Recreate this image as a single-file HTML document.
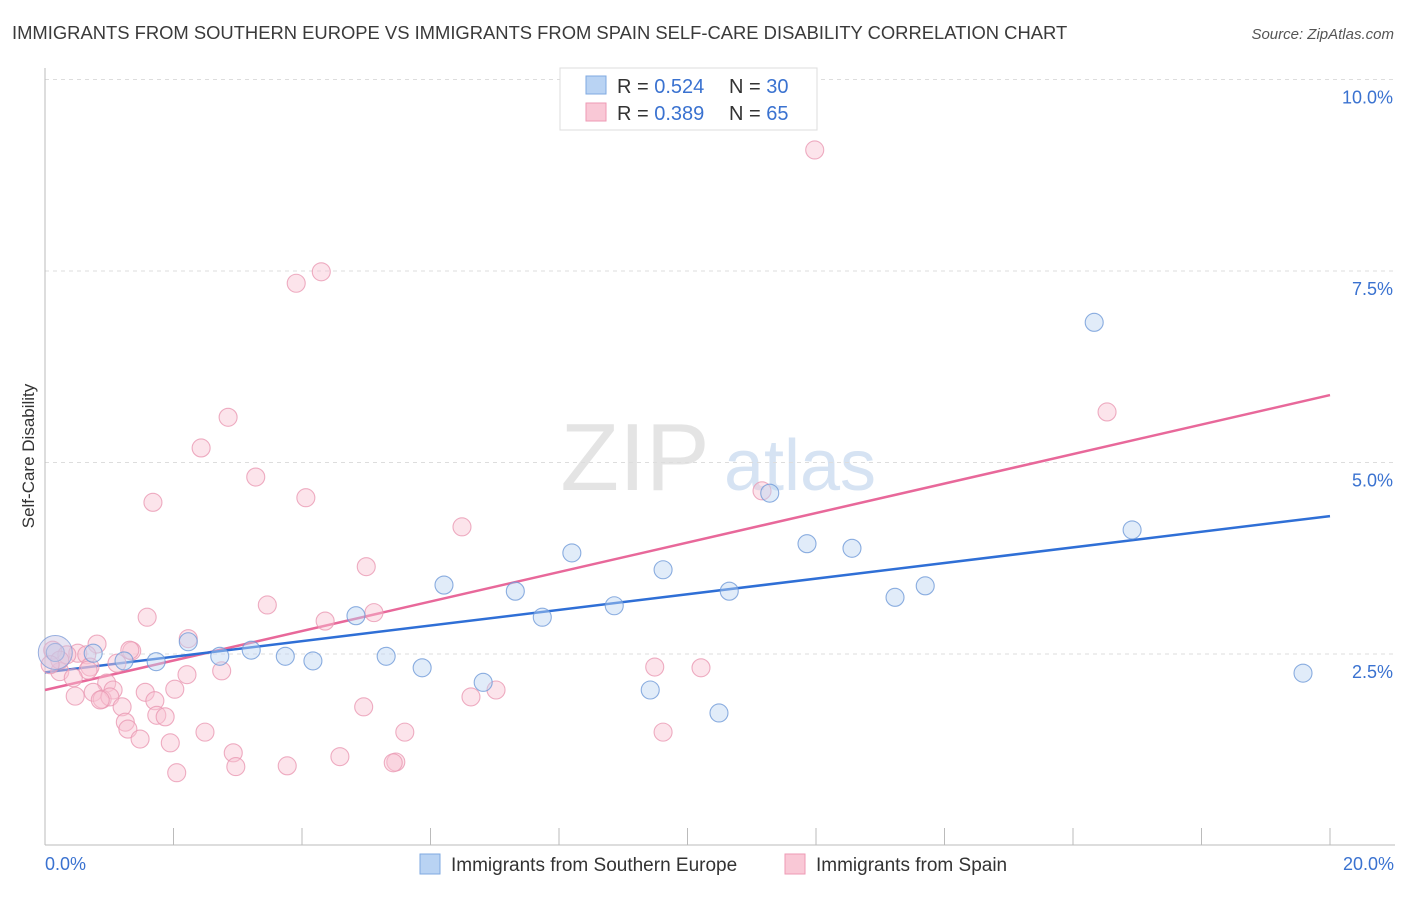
<!DOCTYPE html>
<html><head><meta charset="utf-8"><style>
body{margin:0;background:#fff;font-family:"Liberation Sans",sans-serif;}
svg text{font-family:"Liberation Sans",sans-serif;}
</style></head><body>
<svg id="chart" width="1406" height="892" xmlns="http://www.w3.org/2000/svg">
<text x="12" y="39" font-size="18.4" fill="#3a3a3a">IMMIGRANTS FROM SOUTHERN EUROPE VS IMMIGRANTS FROM SPAIN SELF-CARE DISABILITY CORRELATION CHART</text>
<text x="1394" y="39" font-size="15" fill="#555" font-style="italic" text-anchor="end">Source: ZipAtlas.com</text>
<text transform="translate(34,456) rotate(-90)" font-size="17" fill="#333" text-anchor="middle">Self-Care Disability</text>
<g>
<text x="635" y="490" font-size="96" fill="#e4e4e4" font-family="Liberation Serif" text-anchor="middle">ZIP</text>
<text x="800" y="490" font-size="72" fill="#d6e3f3" text-anchor="middle">atlas</text>
</g>
<g id="grid"></g>
<g id="axes"></g>
<g id="lines"></g>
<g id="points"></g>
<g>
<rect x="560" y="68" width="257" height="62" fill="#fff" stroke="#ddd"/>
<rect x="586" y="76" width="20" height="18" fill="#b9d3f3" stroke="#7fa9e0"/>
<rect x="586" y="103" width="20" height="18" fill="#f9c8d6" stroke="#ee9ab4"/>
<text x="617" y="93" font-size="20" fill="#333">R = <tspan fill="#3a72d0">0.524</tspan></text>
<text x="729" y="93" font-size="20" fill="#333">N = <tspan fill="#3a72d0">30</tspan></text>
<text x="617" y="120" font-size="20" fill="#333">R = <tspan fill="#3a72d0">0.389</tspan></text>
<text x="729" y="120" font-size="20" fill="#333">N = <tspan fill="#3a72d0">65</tspan></text>
</g>
<g>
<rect x="420" y="854" width="20" height="20" fill="#b9d3f3" stroke="#7fa9e0"/>
<text x="451" y="871" font-size="19" fill="#333">Immigrants from Southern Europe</text>
<rect x="785" y="854" width="20" height="20" fill="#f9c8d6" stroke="#ee9ab4"/>
<text x="816" y="871" font-size="19" fill="#333">Immigrants from Spain</text>
</g>
</svg>
<script>
const yTicks=[2.5,5.0,7.5,10.0];
const yTickLabels=["2.5%","5.0%","7.5%","10.0%"];
const xTickLabels=["0.0%","20.0%"];
const blueX=[0.16,0.75,1.23,1.73,2.23,2.72,3.21,3.74,4.17,4.84,5.31,5.87,6.21,6.82,7.32,7.74,8.20,8.86,9.42,9.62,10.49,10.65,11.28,11.86,12.56,13.23,13.70,16.33,16.92,19.58];
const blueY=[2.52,2.51,2.41,2.40,2.66,2.47,2.55,2.47,2.41,3.00,2.47,2.32,3.40,2.13,3.32,2.98,3.82,3.13,2.03,3.60,1.73,3.32,4.60,3.94,3.88,3.24,3.39,6.83,4.12,2.25];
const pinkX=[1.59,3.46,4.36,0.81,2.23,1.35,0.51,0.12,0.34,0.65,1.12,0.70,0.23,0.67,2.21,2.75,0.44,0.96,0.47,0.75,1.06,1.56,2.02,0.89,1.01,1.20,1.71,1.25,1.29,1.74,1.87,1.48,1.95,2.49,2.93,2.97,3.77,2.05,4.59,11.98,4.30,3.91,2.85,2.43,3.28,1.68,4.06,6.49,5.00,11.16,16.53,5.12,7.02,6.63,4.96,5.60,9.49,10.21,9.62,5.46,5.42,0.23,0.08,1.32,0.86];
const pinkY=[2.98,3.14,2.93,2.63,2.70,2.54,2.51,2.55,2.49,2.49,2.38,2.33,2.27,2.29,2.23,2.28,2.19,2.12,1.95,2.00,2.03,2.00,2.04,1.91,1.94,1.81,1.89,1.61,1.52,1.70,1.68,1.39,1.34,1.48,1.21,1.03,1.04,0.95,1.16,9.08,7.49,7.34,5.59,5.19,4.81,4.48,4.54,4.16,3.64,4.63,5.66,3.04,2.03,1.94,1.81,1.48,2.33,2.32,1.48,1.09,1.08,2.42,2.36,2.55,1.90];
const blueTrend=[2.26,4.30];
const pinkTrend=[2.03,5.88];
const NS="http://www.w3.org/2000/svg";
const X=v=>45+v*64.25, Y=v=>845.5-v*76.6;
function mk(tag,attrs,parent){const e=document.createElementNS(NS,tag);for(const k in attrs)e.setAttribute(k,attrs[k]);document.getElementById(parent).appendChild(e);return e;}
yTicks.forEach((t,i)=>{
 const g=mk('line',{x1:45,x2:1395,y1:Y(t),y2:Y(t),stroke:'#ddd','stroke-dasharray':'4,4'},'grid');
 
 
 const l=mk('text',{x:1393,y:Y(t)+24,'font-size':18,fill:'#3a72d0','text-anchor':'end'},'axes');l.textContent=yTickLabels[i];
 
 
});
let a=mk('line',{x1:45,x2:45,y1:68,y2:845,stroke:'#bbb'},'axes');


a=mk('line',{x1:45,x2:1395,y1:845,y2:845,stroke:'#bbb'},'axes');


for(let i=1;i<=10;i++){const t=mk('line',{x1:X(i*2),x2:X(i*2),y1:828,y2:845,stroke:'#bbb'},'axes');
 
 }
[[0,'start',45],[1,'end',1394]].forEach(([i,anc,x])=>{const t=mk('text',{x:x,y:870,'font-size':18,fill:'#3a72d0','text-anchor':anc},'axes');t.textContent=xTickLabels[i];
 
 });
function pts(xs,ys,fill,stroke,name){xs.forEach((x,i)=>{const c=mk('circle',{cx:X(x),cy:Y(ys[i]),r:9,fill:fill,'fill-opacity':0.45,stroke:stroke,'stroke-opacity':0.8,'stroke-width':1.1},'points');
 
 });}
pts(pinkX,pinkY,'#f8c3d2','#ea98b3','point-spain');
pts(blueX,blueY,'#bcd4f2','#6f9ad8','point-southern-europe');
const big=mk('circle',{cx:X(blueX[0]),cy:Y(blueY[0]),r:17,fill:'#c9c4e2','fill-opacity':0.45,stroke:'#7f9ed8','stroke-opacity':0.8},'points');


let tl=mk('line',{x1:X(0),x2:X(20),y1:Y(pinkTrend[0]),y2:Y(pinkTrend[1]),stroke:'#e8689a','stroke-width':2.5},'lines');


tl=mk('line',{x1:X(0),x2:X(20),y1:Y(blueTrend[0]),y2:Y(blueTrend[1]),stroke:'#2f6fd6','stroke-width':2.5},'lines');


</script>
</body></html>
